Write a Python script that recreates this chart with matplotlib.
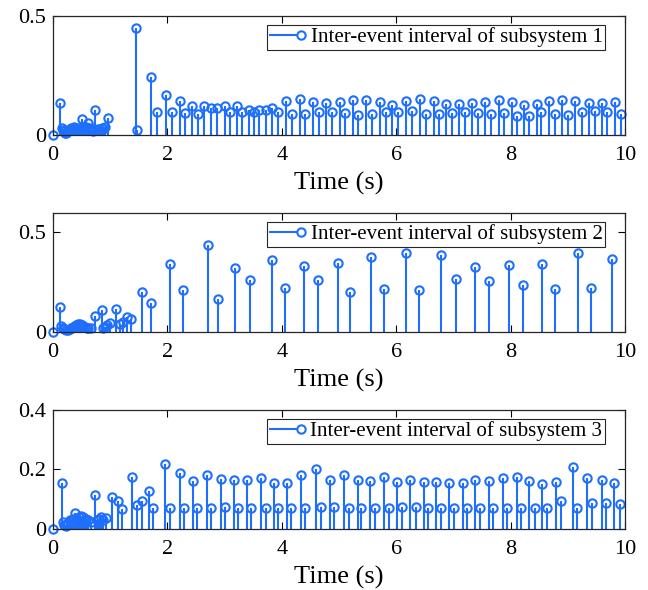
import numpy as np
import matplotlib.pyplot as plt
from matplotlib.legend_handler import HandlerBase
from matplotlib.lines import Line2D

# ============================================
# DATA
# ============================================

t1 = [0, 0.13, 0.15, 0.17, 0.19, 0.21, 0.23, 0.25, 0.28, 0.31, 0.34, 0.37,
      0.40, 0.43, 0.46, 0.49, 0.51, 0.55, 0.58, 0.61, 0.64, 0.67, 0.70, 0.73,
      0.76, 0.79, 0.82, 0.85, 0.88, 0.91, 0.97,
      1.445, 1.47, 1.715, 1.81, 1.97, 2.08, 2.215, 2.31, 2.43, 2.53, 2.64,
      2.76, 2.87, 3.00, 3.10, 3.22, 3.30, 3.42, 3.51, 3.61, 3.72, 3.83, 3.93,
      4.07, 4.17, 4.31, 4.41, 4.55, 4.65, 4.78, 4.88, 5.01, 5.11, 5.24, 5.34,
      5.47, 5.57, 5.71, 5.82, 5.93, 6.03, 6.17, 6.27, 6.41, 6.52, 6.66, 6.74,
      6.87, 6.98, 7.10, 7.20, 7.33, 7.43, 7.56, 7.65, 7.80, 7.88, 8.02, 8.12,
      8.23, 8.33, 8.46, 8.54, 8.67, 8.77, 8.90, 9.00, 9.13, 9.24, 9.37, 9.47,
      9.59, 9.68, 9.82, 9.93]
y1 = [0, 0.136, 0.028, 0.02, 0.015, 0.01, 0.008, 0.012, 0.02, 0.03, 0.025, 0.035,
      0.03, 0.02, 0.03, 0.025, 0.066, 0.03, 0.035, 0.05, 0.03, 0.02, 0.015, 0.105,
      0.02, 0.025, 0.02, 0.03, 0.025, 0.035, 0.07,
      0.448, 0.022, 0.242, 0.097, 0.169, 0.098, 0.143, 0.091, 0.122, 0.089, 0.122,
      0.113, 0.115, 0.122, 0.098, 0.122, 0.098, 0.105, 0.095, 0.106, 0.105, 0.112, 0.096,
      0.144, 0.088, 0.153, 0.089, 0.140, 0.098, 0.136, 0.098, 0.140, 0.091, 0.148, 0.085,
      0.146, 0.088, 0.137, 0.095, 0.128, 0.098, 0.141, 0.099, 0.153, 0.089, 0.144, 0.088,
      0.131, 0.093, 0.129, 0.098, 0.133, 0.094, 0.138, 0.089, 0.145, 0.094, 0.140, 0.079,
      0.127, 0.081, 0.130, 0.096, 0.141, 0.089, 0.147, 0.086, 0.141, 0.096, 0.136, 0.101,
      0.135, 0.096, 0.139, 0.089]

t2 = [0, 0.12, 0.14, 0.17, 0.20, 0.23, 0.26, 0.29, 0.32, 0.35, 0.38, 0.41,
      0.44, 0.47, 0.50, 0.53, 0.56, 0.59, 0.62, 0.66, 0.74, 0.86, 0.88, 0.91,
      0.94, 0.99, 1.11, 1.17, 1.22, 1.29, 1.37,
      1.56, 1.71, 2.05, 2.27, 2.71, 2.88, 3.19, 3.44, 3.82, 4.05, 4.38, 4.63,
      4.98, 5.20, 5.56, 5.78, 6.18, 6.39, 6.78, 7.05, 7.37, 7.63, 7.97, 8.21,
      8.55, 8.78, 9.17, 9.41, 9.77]
y2 = [0, 0.126, 0.03, 0.02, 0.015, 0.01, 0.012, 0.015, 0.02, 0.025, 0.03, 0.035,
      0.04, 0.04, 0.035, 0.03, 0.025, 0.02, 0.02, 0.02, 0.08, 0.108, 0.018, 0.025,
      0.035, 0.044, 0.116, 0.04, 0.052, 0.077, 0.064,
      0.200, 0.144, 0.341, 0.210, 0.434, 0.165, 0.317, 0.258, 0.359, 0.218, 0.330, 0.258,
      0.346, 0.201, 0.374, 0.215, 0.393, 0.210, 0.386, 0.263, 0.324, 0.257, 0.336, 0.235,
      0.339, 0.216, 0.393, 0.221, 0.366]

t3 = [0, 0.155, 0.17, 0.20, 0.23, 0.26, 0.29, 0.32, 0.35, 0.39, 0.42, 0.46,
      0.49, 0.52, 0.55, 0.58, 0.62, 0.66, 0.73, 0.77, 0.81, 0.84, 0.87, 0.93,
      1.04, 1.14, 1.21, 1.38, 1.46, 1.55, 1.67, 1.755,
      1.965, 2.04, 2.215, 2.285, 2.44, 2.52, 2.69, 2.76, 2.93, 3.00, 3.165, 3.24,
      3.40, 3.47, 3.63, 3.72, 3.865, 3.93, 4.085, 4.16, 4.34, 4.41, 4.60, 4.685,
      4.84, 4.91, 5.09, 5.17, 5.33, 5.39, 5.54, 5.63, 5.79, 5.87, 6.02, 6.10,
      6.25, 6.34, 6.49, 6.56, 6.70, 6.79, 6.92, 7.005, 7.16, 7.23, 7.385, 7.47,
      7.62, 7.69, 7.86, 7.94, 8.11, 8.18, 8.33, 8.42, 8.55, 8.64, 8.79, 8.88,
      9.09, 9.155, 9.33, 9.42, 9.59, 9.66, 9.81, 9.91]
y3 = [0, 0.153, 0.025, 0.015, 0.01, 0.02, 0.03, 0.025, 0.035, 0.053, 0.03, 0.04,
      0.045, 0.04, 0.03, 0.035, 0.03, 0.025, 0.115, 0.03, 0.035, 0.04, 0.03, 0.038,
      0.106, 0.095, 0.068, 0.174, 0.079, 0.094, 0.127, 0.070,
      0.220, 0.070, 0.189, 0.070, 0.163, 0.070, 0.181, 0.070, 0.168, 0.073, 0.166, 0.070,
      0.165, 0.070, 0.171, 0.070, 0.154, 0.070, 0.154, 0.070, 0.181, 0.071, 0.201, 0.074,
      0.165, 0.074, 0.181, 0.071, 0.165, 0.070, 0.163, 0.070, 0.174, 0.070, 0.158, 0.075,
      0.164, 0.074, 0.158, 0.071, 0.158, 0.071, 0.155, 0.071, 0.156, 0.071, 0.166, 0.071,
      0.161, 0.071, 0.170, 0.072, 0.175, 0.072, 0.162, 0.072, 0.152, 0.072, 0.158, 0.095,
      0.207, 0.070, 0.170, 0.087, 0.165, 0.087, 0.153, 0.083]

series = [(t1, y1), (t2, y2), (t3, y3)]
labels = ["Inter-event interval of subsystem %d" % k for k in (1, 2, 3)]
ylims = [(0, 0.5), (0, 0.594), (0, 0.4)]
yticks = [[0, 0.5], [0, 0.5], [0, 0.2, 0.4]]

# ============================================
# STYLE
# ============================================

blue = "#1f6fff"
plt.rcParams["font.family"] = ["Liberation Serif", "DejaVu Serif"]


class StemHandler(HandlerBase):
    # line with the marker at its right end, like a MATLAB stem legend
    def create_artists(self, legend, orig_handle, xdescent, ydescent,
                       width, height, fontsize, trans):
        yc = height / 2 - ydescent
        x0 = -xdescent
        x1 = width - xdescent
        line = Line2D([x0, x1], [yc, yc], color=blue, lw=1.5)
        mark = Line2D([x1], [yc], marker="o", ms=6, mfc="white",
                      mec=blue, mew=1.5, ls="none")
        line.set_transform(trans)
        mark.set_transform(trans)
        return [line, mark]


# ============================================
# PLOT
# ============================================

fig = plt.figure(figsize=(6.48, 5.9), dpi=100)

bottoms = [0.7712, 0.4373, 0.1034]
height = 0.2017

for i, (t, y) in enumerate(series):
    ax = fig.add_axes([0.0818, bottoms[i], 0.8827, height])

    ax.vlines(t, 0, y, color=blue, lw=1.5)
    ax.plot(t, y, "o", ms=6, mfc="none", mec=blue, mew=1.5, clip_on=False)

    ax.set_xlim(0, 10)
    ax.set_ylim(*ylims[i])
    ax.set_xticks([0, 2, 4, 6, 8, 10])
    ax.set_yticks(yticks[i])
    ax.set_yticklabels([("%g" % v) for v in yticks[i]])

    ax.tick_params(direction="in", top=True, right=True, length=5,
                   width=0.8, labelsize=16)
    ax.tick_params(axis="x", pad=8)
    ax.tick_params(axis="y", pad=5)
    for s in ax.spines.values():
        s.set_linewidth(0.9)
        s.set_color("#262626")

    ax.set_xlabel("Time (s)", fontsize=19, labelpad=5)

    proxy = Line2D([], [], color=blue)
    leg = ax.legend([proxy], [labels[i]], handler_map={Line2D: StemHandler()},
                    loc="upper right", bbox_to_anchor=(0.965, 0.925),
                    borderaxespad=0, fontsize=15, fancybox=False,
                    edgecolor="#262626", framealpha=1, handlelength=1.5,
                    handletextpad=0.45, borderpad=0.12)
    leg.get_frame().set_linewidth(0.8)

plt.savefig("out.png", dpi=100)
